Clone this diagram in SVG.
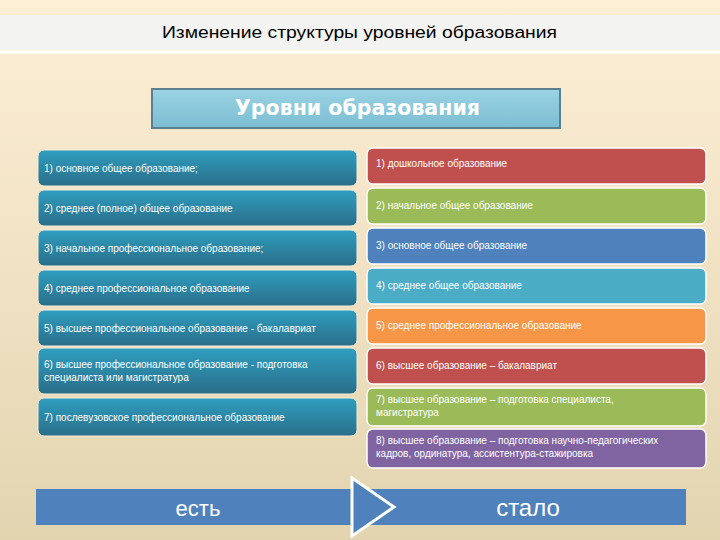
<svg xmlns="http://www.w3.org/2000/svg" width="720" height="540" viewBox="0 0 720 540">
<defs>
<linearGradient id="bg" x1="0" y1="0" x2="0" y2="1"><stop offset="0" stop-color="#fdefd6"/><stop offset="1" stop-color="#e3d4b0"/></linearGradient>
<linearGradient id="lg" x1="0" y1="0" x2="0" y2="1"><stop offset="0" stop-color="#2f9ec0"/><stop offset="1" stop-color="#2a6e89"/></linearGradient>
<linearGradient id="tg" x1="0" y1="0" x2="0" y2="1"><stop offset="0" stop-color="#9ad3e4"/><stop offset="1" stop-color="#7cbdd2"/></linearGradient>
<style>
.l{fill:url(#lg);stroke:#f5ecd8;stroke-width:1}
.r{stroke:#fff;stroke-width:1.5}
.t{font-family:"Liberation Sans",Arial,sans-serif;font-size:10px;fill:#fff}
</style>
</defs>
<rect width="720" height="540" fill="url(#bg)"/>
<rect x="0" y="15" width="720" height="35" fill="#f3f3f1"/>
<line x1="0" y1="52" x2="720" y2="52" stroke="#fff" stroke-width="3"/>
<text x="162" y="38" textLength="395" lengthAdjust="spacingAndGlyphs" font-family="Liberation Sans,Arial,sans-serif" font-size="16" fill="#000">Изменение структуры уровней образования</text>
<g id="title"><rect x="152" y="89" width="408" height="39" fill="url(#tg)" stroke="#5a7f90" stroke-width="2"/>
<text x="235" y="115" textLength="245" lengthAdjust="spacingAndGlyphs" font-family="DejaVu Sans,sans-serif" font-weight="bold" font-size="21" fill="#fff">Уровни образования</text></g>
<g id="left">
<rect class="l" x="38" y="150" width="319" height="36" rx="6"/><text class="t" x="44" y="172">1) основное общее образование;</text>
<rect class="l" x="38" y="190" width="319" height="36" rx="6"/><text class="t" x="44" y="212">2) среднее (полное) общее образование</text>
<rect class="l" x="38" y="230" width="319" height="36" rx="6"/><text class="t" x="44" y="252">3) начальное профессиональное образование;</text>
<rect class="l" x="38" y="270" width="319" height="36" rx="6"/><text class="t" x="44" y="292">4) среднее профессиональное образование</text>
<rect class="l" x="38" y="310" width="319" height="36" rx="6"/><text class="t" x="44" y="332">5) высшее профессиональное образование - бакалавриат</text>
<rect class="l" x="38" y="348" width="319" height="46" rx="6"/><text class="t" x="44" y="368">6) высшее профессиональное образование -  подготовка</text><text class="t" x="44" y="381">специалиста   или  магистратура</text>
<rect class="l" x="38" y="398" width="319" height="38" rx="6"/><text class="t" x="44" y="421">7) послевузовское профессиональное образование</text>
</g>
<g id="right">
<rect class="r" fill="#c0504d" x="367" y="148" width="339" height="36" rx="6"/><text class="t" x="376" y="167">1) дошкольное образование</text>
<rect class="r" fill="#9bbb59" x="367" y="188" width="339" height="36" rx="6"/><text class="t" x="376" y="209">2) начальное общее образование</text>
<rect class="r" fill="#4f81bd" x="367" y="228" width="339" height="36" rx="6"/><text class="t" x="376" y="249">3) основное общее образование</text>
<rect class="r" fill="#4bacc6" x="367" y="268" width="339" height="36" rx="6"/><text class="t" x="376" y="289">4) среднее общее образование</text>
<rect class="r" fill="#f79646" x="367" y="308" width="339" height="36" rx="6"/><text class="t" x="376" y="329">5) среднее профессиональное образование</text>
<rect class="r" fill="#c0504d" x="367" y="348" width="339" height="36" rx="6"/><text class="t" x="376" y="369">6) высшее образование – бакалавриат</text>
<rect class="r" fill="#9bbb59" x="367" y="388" width="339" height="38" rx="6"/><text class="t" x="376" y="403">7) высшее образование – подготовка специалиста,</text><text class="t" x="376" y="416">магистратура</text>
<rect class="r" fill="#8064a2" x="367" y="429" width="339" height="39" rx="6"/><text class="t" x="376" y="444">8) высшее образование – подготовка научно-педагогических</text><text class="t" x="376" y="457">кадров, ординатура, ассистентура-стажировка</text>
</g>
<g id="bottom">
<rect x="36" y="489" width="650" height="36" fill="#4f81bd"/>
<polygon points="352,478 394,507 352,536" fill="#4f81bd" stroke="#fff" stroke-width="3"/>
<text x="198" y="516" text-anchor="middle" font-family="Liberation Sans,Arial,sans-serif" font-size="22" fill="#fff">есть</text>
<text x="528" y="516" text-anchor="middle" font-family="Liberation Sans,Arial,sans-serif" font-size="24" fill="#fff">стало</text>
</g>
</svg>
